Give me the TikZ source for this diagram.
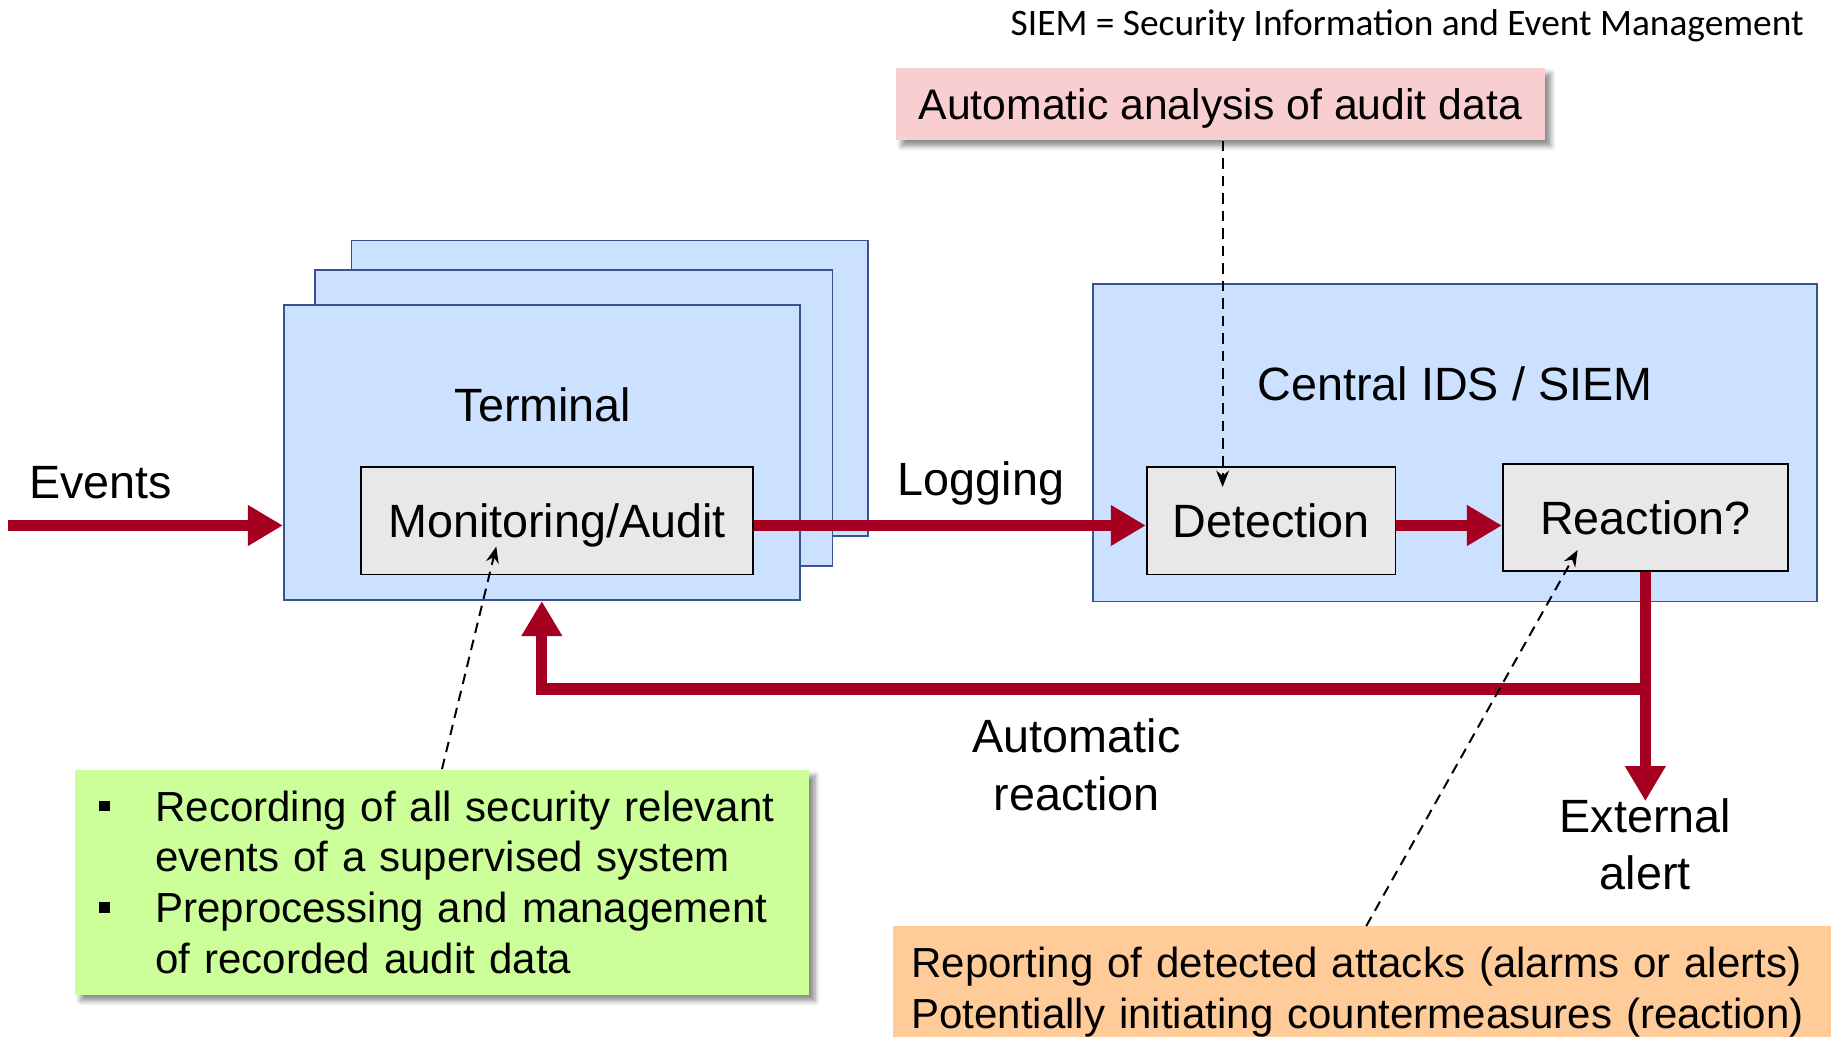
\documentclass[tikz,border=0pt]{standalone}
\usepackage{fontspec}
\setmainfont{Liberation Sans}
\newfontfamily\notefont{Carlito}
\usetikzlibrary{arrows.meta,shadows.blur,calc}
\definecolor{darkred}{RGB}{165,0,33}
\definecolor{boxblue}{RGB}{204,224,255}
\definecolor{blueedge}{RGB}{55,85,140}
\definecolor{boxgray}{RGB}{232,232,232}
\definecolor{notepink}{RGB}{248,206,208}
\definecolor{notegreen}{RGB}{204,255,153}
\definecolor{noteorange}{RGB}{255,204,153}
\newcommand\gbul{\makebox[24pt][l]{\raisebox{4.2pt}{\rule{4.5pt}{4.5pt}}}}
\newcommand\gind{\hspace*{24pt}}
\tikzset{
  termbox/.style={draw=blueedge, fill=boxblue, line width=0.75pt, inner sep=0pt},
  graybox/.style={draw=black, fill=boxgray, line width=0.8pt, font=\fontsize{20}{24}\selectfont,
    text height=14.3pt, text depth=0pt, inner sep=0pt},
  lbl/.style={font=\fontsize{20}{24.5}\selectfont, inner sep=0pt},
  redarrow/.style={draw=darkred, line width=4.8pt, -{Triangle[length=15pt,width=16.5pt]}},
  dasharrow/.style={draw=black, line width=0.85pt, dash pattern=on 4.5pt off 3pt,
    -{Stealth[length=7pt,width=5.5pt]}},
  noteshadow/.style={blur shadow={shadow xshift=2.5pt, shadow yshift=-2.5pt, shadow blur steps=6, shadow opacity=45}},
  notetext/.style={font=\fontsize{18}{21.75}\selectfont, inner ysep=0pt, align=left}
}
\begin{document}
\begin{tikzpicture}[x=0.5pt, y=-0.5pt]
\useasboundingbox (0,0) rectangle (1568,888);
\clip (0,0) rectangle (1568,888);

% Terminal stack
\node[termbox, minimum width=221pt, minimum height=126.5pt] (back) at (522,332.5) {};
\node[termbox, minimum width=221.5pt, minimum height=127pt] (mid) at (491.5,358) {};
\node[termbox, minimum width=221pt, minimum height=126.5pt] (front) at (464,387.5) {};
\node[lbl, anchor=base] (term) at (465,361) {Terminal};
\node[graybox, minimum width=168pt, minimum height=46pt] (mon) at (477,446) {Monitoring/Audit};

% Central IDS
\node[termbox, minimum width=310pt, minimum height=136pt] (central) at (1246,379) {};
\node[lbl, anchor=base] (centlbl) at (1246,343) {Central IDS / SIEM};
\node[graybox, minimum width=106.5pt, minimum height=46pt] (det) at (1088.5,446) {Detection};
\node[graybox, minimum width=122pt, minimum height=46pt] (react) at (1409,443) {Reaction?};

% labels
\node[lbl, anchor=base] (events) at (86,427) {Events};
\node[lbl, anchor=base] (logging) at (840,424) {Logging};
\node[lbl, align=center] (autoreact) at (922,655) {Automatic\\reaction};
\node[lbl, align=center] (extalert) at (1409,723) {External\\alert};

\node[anchor=base east, font=\notefont\fontsize{16}{19}\selectfont, inner sep=0pt] (siem) at (1545,30)
  {SIEM = Security Information and Event Management};

% coordinates
\coordinate (evstart) at (7,450);
\coordinate (branch) at (1409,590);
\coordinate (alerttip) at (1409,686);
\coordinate (dettip) at (1047,417);
\coordinate (montip) at (425,468);
\coordinate (reacttip) at (1351,471);

% red arrows
\draw[redarrow] (evstart) -- (evstart -| front.west);
\draw[redarrow] (mon.east |- evstart) -- (det.west |- evstart);
\draw[redarrow] (det.east |- evstart) -- (react.west |- evstart);
\draw[redarrow] (react.south) -- (alerttip);
\draw[redarrow] (branch) -| (front.south);

% notes
\node[fill=notepink, noteshadow, minimum width=278pt, minimum height=31pt, inner sep=0pt,
  font=\fontsize{18.3}{21.75}\selectfont, text height=13.1pt, text depth=0pt] (pink) at (1045,89)
  {Automatic analysis of audit data};

\node[fill=notegreen, noteshadow, notetext, minimum width=314.5pt, minimum height=96.5pt,
  text width=293.5pt, inner xsep=10.5pt] (green) at (378.5,755.5)
  {\gbul Recording of all security relevant\\\gind events of a supervised system\\\gbul Preprocessing and management\\\gind of recorded audit data};

\node[fill=noteorange, notetext, anchor=north west, minimum width=415pt, minimum height=56.5pt,
  text width=399pt, inner xsep=8pt] (orange) at (764,793)
  {Reporting of detected attacks (alarms or alerts)\\Potentially initiating countermeasures (reaction)};

% dashed pointers
\draw[dasharrow] (pink.south -| dettip) -- (dettip);
\draw[dasharrow] (green.north) -- (montip);
\draw[dasharrow] ([xshift=203pt]orange.north west) -- (reacttip);
\end{tikzpicture}
\end{document}
